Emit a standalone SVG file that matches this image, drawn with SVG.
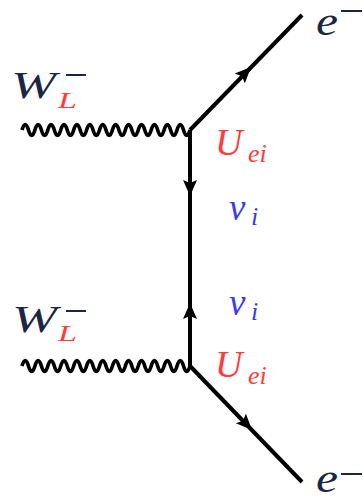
<svg xmlns="http://www.w3.org/2000/svg" width="363" height="501" viewBox="0 0 363 501">
<style>
.ln{fill:none;stroke:#000;stroke-width:4;stroke-linecap:butt}
.wv{fill:none;stroke:#000;stroke-width:3.6}
.m{font-family:"Liberation Serif","DejaVu Serif",serif;font-style:italic}
.nv{fill:#1b2642}
.rd{fill:#ff3b3b}
.bl{fill:#3a3af0}
.bar{stroke:#1b2642;stroke-width:2}
</style>
<defs>
<path id="ah" d="M0,0 L-16,-7 L-13,0 L-16,7 Z" fill="#000"/>
</defs>
<g id="connectors">
<path class="wv" d="M22,130 q3.23,-11 6.46,0 t6.46,0 t6.46,0 t6.46,0 t6.46,0 t6.46,0 t6.46,0 t6.46,0 t6.46,0 t6.46,0 t6.46,0 t6.46,0 t6.46,0 t6.46,0 t6.46,0 t6.46,0 t6.46,0 t6.46,0 t6.46,0 t6.46,0 t6.46,0 t6.46,0 t6.46,0 t6.46,0 t6.46,0 t6.46,0"/>
<path class="wv" d="M22,366 q3.23,-11 6.46,0 t6.46,0 t6.46,0 t6.46,0 t6.46,0 t6.46,0 t6.46,0 t6.46,0 t6.46,0 t6.46,0 t6.46,0 t6.46,0 t6.46,0 t6.46,0 t6.46,0 t6.46,0 t6.46,0 t6.46,0 t6.46,0 t6.46,0 t6.46,0 t6.46,0 t6.46,0 t6.46,0 t6.46,0 t6.46,0"/>
<line class="ln" x1="190" y1="130" x2="190" y2="366"/>
<line class="ln" x1="190" y1="130" x2="302" y2="15"/>
<line class="ln" x1="190" y1="366" x2="302" y2="482"/>
<use href="#ah" transform="translate(251,67) rotate(-45.8)"/>
<use href="#ah" transform="translate(190,196) rotate(90)"/>
<use href="#ah" transform="translate(190,303) rotate(-90)"/>
<use href="#ah" transform="translate(252,430) rotate(46)"/>
</g>
<g id="W1">
<text class="m nv" x="11" y="98" font-size="38" textLength="45" lengthAdjust="spacingAndGlyphs">W</text>
<line class="bar" x1="66" y1="75" x2="86" y2="75"/>
<text class="m rd" x="58" y="108" font-size="24" textLength="19" lengthAdjust="spacingAndGlyphs">L</text>
</g>
<g id="W2">
<text class="m nv" x="12" y="332" font-size="38" textLength="45" lengthAdjust="spacingAndGlyphs">W</text>
<line class="bar" x1="66" y1="311" x2="86" y2="311"/>
<text class="m rd" x="58" y="341" font-size="24" textLength="19" lengthAdjust="spacingAndGlyphs">L</text>
</g>
<g id="e1">
<text class="m nv" x="316" y="35" font-size="40" textLength="22" lengthAdjust="spacingAndGlyphs">e</text>
<line class="bar" x1="341" y1="11" x2="362" y2="11"/>
</g>
<g id="e2">
<text class="m nv" x="316" y="492" font-size="40" textLength="22" lengthAdjust="spacingAndGlyphs">e</text>
<line class="bar" x1="341" y1="474" x2="362" y2="474"/>
</g>
<g id="U1">
<text class="m rd" x="215" y="155" font-size="38">U</text>
<text class="m rd" x="248" y="162" font-size="26">ei</text>
</g>
<g id="nu1">
<text class="m bl" x="229" y="220" font-size="37">ν</text>
<text class="m bl" x="251" y="225" font-size="26">i</text>
</g>
<g id="nu2">
<text class="m bl" x="229" y="315" font-size="37">ν</text>
<text class="m bl" x="251" y="320" font-size="26">i</text>
</g>
<g id="U2">
<text class="m rd" x="215" y="377" font-size="38">U</text>
<text class="m rd" x="248" y="384" font-size="26">ei</text>
</g>
</svg>
